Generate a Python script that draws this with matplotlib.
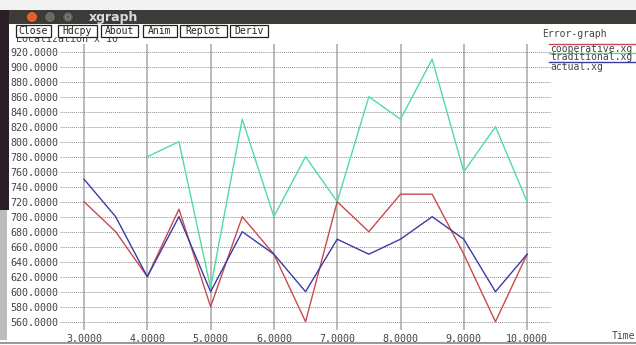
import matplotlib
matplotlib.use("Agg")
import matplotlib.pyplot as plt
from matplotlib.patches import Rectangle, Ellipse
from matplotlib.lines import Line2D

W, H = 636, 345

# ---- data ----
x_vals = [3.0, 3.5, 4.0, 4.5, 5.0, 5.5, 6.0, 6.5, 7.0, 7.5, 8.0, 8.5, 9.0, 9.5, 10.0]
cooperative = [720, 680, 620, 710, 580, 700, 650, 560, 720, 680, 730, 730, 650, 560, 650]
actual = [750, 700, 620, 700, 600, 680, 650, 600, 670, 650, 670, 700, 670, 600, 650]
trad_x = [4.0, 4.5, 5.0, 5.5, 6.0, 6.5, 7.0, 7.5, 8.0, 8.5, 9.0, 9.5, 10.0]
traditional = [780, 800, 605, 830, 700, 780, 720, 860, 830, 910, 760, 820, 720]
x_ticks = [3, 4, 5, 6, 7, 8, 9, 10]
x_tick_labels = ["3.0000", "4.0000", "5.0000", "6.0000", "7.0000", "8.0000", "9.0000", "10.0000"]
y_ticks = list(range(560, 921, 20))
y_tick_labels = ["%d.0000" % v for v in y_ticks]
legend_names = ["cooperative.xg", "traditional.xg", "actual.xg"]
buttons = ["Close", "Hdcpy", "About", "Anim", "Replot", "Deriv"]

MONO = "DejaVu Sans Mono"
C_RED = "#c84a50"
C_GREEN = "#4edca4"
C_BLUE = "#3c3ca4"
TXT = "#444444"


def fx(px):
    return px / W


def fy(py):
    return 1 - py / H


fig = plt.figure(figsize=(W / 100, H / 100), dpi=100)
fig.patch.set_facecolor("white")

# axes in pixel placement
ax_l, ax_r, ax_t, ax_b = 60, 551, 44, 330
ax = fig.add_axes([fx(ax_l), fy(ax_b), (ax_r - ax_l) / W, (ax_b - ax_t) / H])
ax.set_facecolor("white")


# pixel mapping: x=3 at 84px, 63.3 px/unit ; y=920 at 51.7px, 15px per 20
def xval(px):
    return 3 + (px - 84) / 63.3


def yval(py):
    return 920 - (py - 51.7) * 20 / 15


ax.set_xlim(xval(ax_l), xval(ax_r))
ax.set_ylim(yval(ax_b), yval(ax_t))
for s in ax.spines.values():
    s.set_visible(False)

ax.set_xticks(x_ticks)
ax.set_xticklabels(x_tick_labels, fontfamily=MONO, fontsize=7.2, color=TXT)
ax.set_yticks(y_ticks)
ax.set_yticklabels(y_tick_labels, fontfamily=MONO, fontsize=7.2, color=TXT)
ax.tick_params(axis="both", length=0)
ax.tick_params(axis="y", pad=1.5)
ax.tick_params(axis="x", pad=3)

ax.grid(axis="x", color="#b4b4b4", linewidth=1.3, linestyle="-")
ax.grid(axis="y", color="#909090", linewidth=0.7, linestyle=(0, (1, 1)))
ax.set_axisbelow(True)

ax.plot(trad_x, traditional, color=C_GREEN, linewidth=1.0, zorder=3)
ax.plot(x_vals, cooperative, color=C_RED, linewidth=1.0, zorder=4)
ax.plot(x_vals, actual, color=C_BLUE, linewidth=1.0, zorder=5)

# ---- window chrome ----
# title bar
fig.patches.append(Rectangle((fx(0), fy(24)), 1, (24 - 10) / H, transform=fig.transFigure,
                             facecolor="#3c3b37", edgecolor="none", zorder=2))
fig.patches.append(Rectangle((fx(0), fy(10)), 1, 10 / H, transform=fig.transFigure,
                             facecolor="#f2f2f2", edgecolor="none", zorder=2))
for cx, col in [(32, "#e0602e"), (50, "#6a6964"), (68, "#5c5b57")]:
    fig.patches.append(Ellipse((fx(cx), fy(17)), 11 / W, 11 / H, transform=fig.transFigure,
                               facecolor=col, edgecolor="#2a2a28", linewidth=0.5, zorder=3))
fig.patches.append(Ellipse((fx(68), fy(17)), 5 / W, 5 / H, transform=fig.transFigure,
                           facecolor="none", edgecolor="#8a8984", linewidth=0.8, zorder=4))
fig.text(fx(89), fy(17), "xgraph", fontsize=9, fontweight="bold", color="#dcdcdc",
         ha="left", va="center", zorder=4)

# localization label (partly hidden by buttons)
fig.text(fx(16), fy(39.5), "Localization x 10", fontfamily=MONO, fontsize=7.2,
         color=TXT, ha="left", va="center", zorder=1)
fig.patches.append(Rectangle((fx(0), fy(37)), 1, 13 / H, transform=fig.transFigure,
                             facecolor="white", edgecolor="none", zorder=2))

# buttons
bx = [(16, 51), (58, 97), (101, 138), (143, 177), (180, 227), (230, 268)]
for (x0, x1), name in zip(bx, buttons):
    fig.patches.append(Rectangle((fx(x0), fy(37)), (x1 - x0) / W, 12 / H, transform=fig.transFigure,
                                 facecolor="white", edgecolor="#222222", linewidth=0.9, zorder=3))
    fig.text(fx((x0 + x1) / 2), fy(31), name, fontfamily=MONO, fontsize=7, color="#222222",
             ha="center", va="center", zorder=4)

# left dark strip
fig.patches.append(Rectangle((fx(0), fy(210)), 9 / W, 200 / H, transform=fig.transFigure,
                             facecolor="#2b1e26", edgecolor="none", zorder=2))
fig.patches.append(Rectangle((fx(0), fy(340)), 7 / W, 130 / H, transform=fig.transFigure,
                             facecolor="#bcbcbc", edgecolor="none", zorder=2))
# bottom border
fig.lines.append(Line2D([0, 1], [fy(343), fy(343)], transform=fig.transFigure,
                        color="#9a9a9a", linewidth=1.5, zorder=2))

# legend / titles
fig.text(fx(542), fy(34), "Error-graph", fontfamily=MONO, fontsize=7, color=TXT,
         ha="left", va="center")
for i, (name, col) in enumerate(zip(legend_names, [C_RED, C_GREEN, C_BLUE])):
    yl = 44 + 9 * i
    fig.lines.append(Line2D([fx(549), 1], [fy(yl), fy(yl)], transform=fig.transFigure,
                            color=col, linewidth=1.0))
    fig.text(fx(550), fy(yl + 4.5), name, fontfamily=MONO, fontsize=7, color=TXT,
             ha="left", va="center")
fig.text(fx(612), fy(336), "Time", fontfamily=MONO, fontsize=7, color=TXT,
         ha="left", va="center")

fig.savefig("out.png", dpi=100)
